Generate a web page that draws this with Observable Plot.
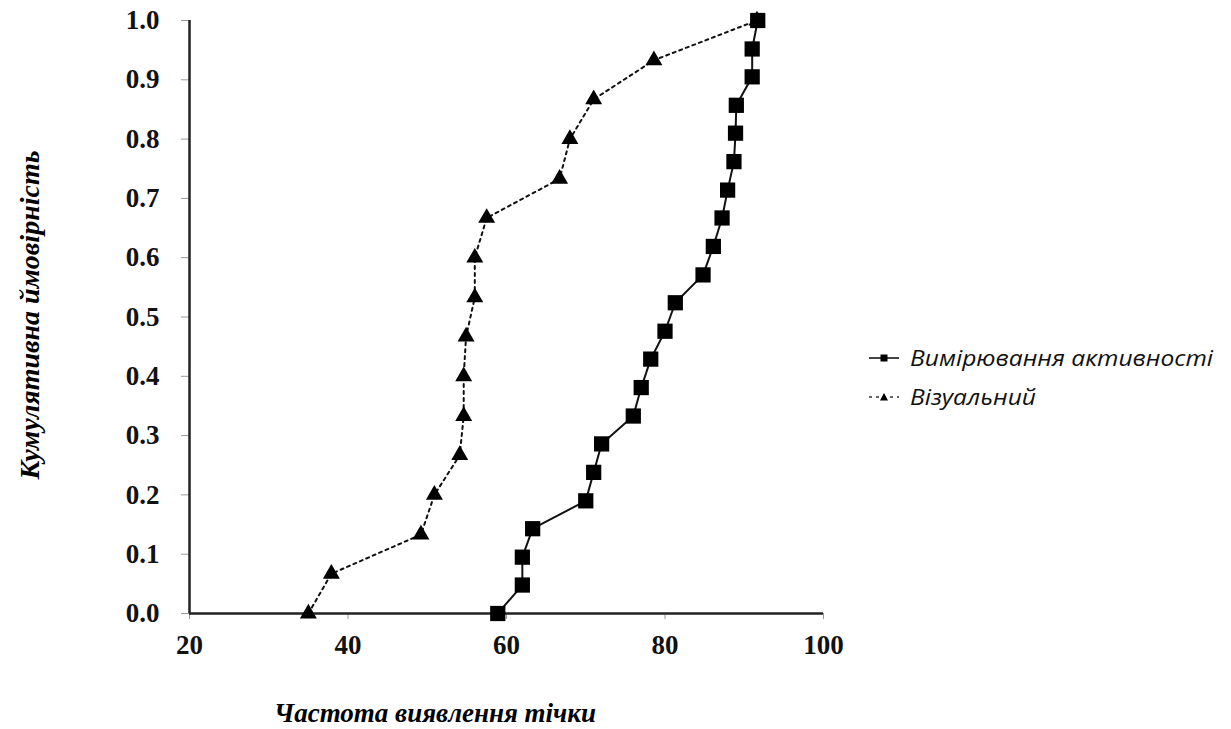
<!DOCTYPE html>
<html>
<head>
<meta charset="utf-8">
<script src="https://cdn.jsdelivr.net/npm/d3@7"></script>
<script src="https://cdn.jsdelivr.net/npm/@observablehq/plot@0.6"></script>
<style>
  body { margin: 0; background: #fff; }
  #wrap { position: relative; width: 1231px; height: 729px; overflow: hidden; }
  #wrap > svg { position: absolute; left: 0; top: 0; }
  .lab { position: absolute; font-family: "Liberation Serif", "Times New Roman", serif; font-weight: bold; font-style: italic; font-size: 28px; line-height: 1; color: #000; white-space: nowrap; }
  #ylab { left: 30px; top: 315px; transform: translate(-50%, -50%) rotate(-90deg); }
  #xlab { left: 435px; top: 713px; transform: translate(-50%, -50%); font-size: 27px; }
  #legend { position: absolute; left: 868px; top: 338px; font-family: "Open Sans", "Noto Sans", sans-serif; font-style: italic; font-size: 21px; color: #111; }
  .row { display: flex; align-items: center; height: 39px; white-space: nowrap; }
  .row svg { margin-right: 10px; flex: none; }
  .row span { display: inline-block; transform: scaleX(1.17); transform-origin: left center; }
</style>
</head>
<body>
<div id="wrap"></div>
<script>
// Series: Вимірювання активності (activity measurement)
const activityX = [58.9, 62.0, 62.0, 63.3, 70.0, 71.0, 72.0, 76.0, 77.0, 78.2, 80.0, 81.3, 84.8, 86.1, 87.2, 87.9, 88.7, 88.9, 89.0, 91.0, 91.0, 91.7];
const activityY = [0.0, 0.048, 0.095, 0.143, 0.19, 0.238, 0.286, 0.333, 0.381, 0.429, 0.476, 0.524, 0.571, 0.619, 0.667, 0.714, 0.762, 0.81, 0.857, 0.905, 0.952, 1.0];
// Series: Візуальний (visual)
const visualX = [35.0, 37.9, 49.2, 50.9, 54.1, 54.6, 54.6, 54.9, 56.0, 56.0, 57.5, 66.7, 68.0, 71.0, 78.6, 91.6];
const visualY = [0.0, 0.067, 0.133, 0.2, 0.267, 0.333, 0.4, 0.467, 0.533, 0.6, 0.667, 0.733, 0.8, 0.867, 0.933, 1.0];
const xTicks = [20, 40, 60, 80, 100];
const yTicks = [0.0, 0.1, 0.2, 0.3, 0.4, 0.5, 0.6, 0.7, 0.8, 0.9, 1.0];
const seriesNames = ["Вимірювання активності", "Візуальний"];
const xTitle = "Частота виявлення тічки";
const yTitle = "Кумулятивна ймовірність";

const activity = activityX.map((x, i) => ({x, y: activityY[i]}));
const visual = visualX.map((x, i) => ({x, y: visualY[i]}));

const tickFont = {fontSize: 27, fontWeight: "bold", fill: "#111"};

const chart = Plot.plot({
  width: 1231,
  height: 729,
  marginLeft: 189,
  marginRight: 408,
  marginTop: 20,
  marginBottom: 116,
  style: {fontFamily: "'Liberation Serif', 'Times New Roman', serif", fontWeight: "bold", color: "#000", background: "#fff"},
  x: {domain: [20, 100], label: null},
  y: {domain: [0, 1], label: null},
  marks: [
    Plot.axisX({ticks: xTicks, tickFormat: d => d, tickSize: 6, tickPadding: 15, stroke: "#999", label: null, ...tickFont}),
    Plot.axisY({ticks: yTicks, tickFormat: d => d.toFixed(1), tickSize: 8, tickPadding: 22, stroke: "#999", label: null, ...tickFont}),
    Plot.ruleX([20], {stroke: "#222", strokeWidth: 2.5}),
    Plot.ruleY([0], {stroke: "#222", strokeWidth: 2.5}),
    Plot.line(visual, {x: "x", y: "y", stroke: "#111", strokeWidth: 2, strokeDasharray: "3,4"}),
    Plot.dot(visual, {x: "x", y: "y", symbol: "triangle", r: 6.3, fill: "#000", stroke: "none"}),
    Plot.line(activity, {x: "x", y: "y", stroke: "#111", strokeWidth: 2}),
    Plot.dot(activity, {x: "x", y: "y", symbol: "square", r: 8.6, fill: "#000", stroke: "none"})
  ]
});

const wrap = document.getElementById("wrap");
wrap.appendChild(chart);

const ylab = document.createElement("div");
ylab.className = "lab"; ylab.id = "ylab"; ylab.textContent = yTitle;
wrap.appendChild(ylab);
const xlab = document.createElement("div");
xlab.className = "lab"; xlab.id = "xlab"; xlab.textContent = xTitle;
wrap.appendChild(xlab);

const legend = document.createElement("div");
legend.id = "legend";
const keys = [
  `<svg width="32" height="12"><line x1="1" y1="6" x2="31" y2="6" stroke="#444" stroke-width="2"/><rect x="12.5" y="2.5" width="7" height="7" fill="#000"/></svg>`,
  `<svg width="32" height="12"><line x1="1" y1="6" x2="31" y2="6" stroke="#666" stroke-width="2" stroke-dasharray="3,4"/><path d="M16,2 L20,9.5 L12,9.5 Z" fill="#000"/></svg>`
];
seriesNames.forEach((name, i) => {
  const row = document.createElement("div");
  row.className = "row";
  row.innerHTML = keys[i] + `<span>${name}</span>`;
  legend.appendChild(row);
});
wrap.appendChild(legend);
</script>
</body>
</html>
